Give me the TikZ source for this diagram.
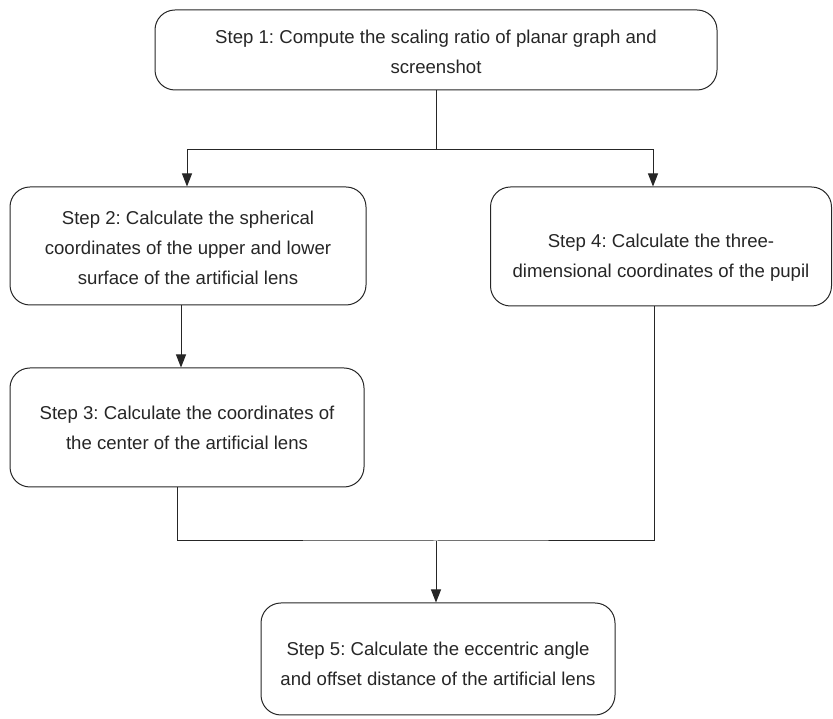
\documentclass[tikz,border=0pt]{standalone}
\usepackage{fontspec}
\setmainfont{Liberation Sans}
\usetikzlibrary{arrows.meta}
\begin{document}
\frenchspacing
\begin{tikzpicture}[x=1pt,y=1pt,
  stepbox/.style={draw=black!85,line width=1pt,rounded corners=20pt,inner sep=0pt},
  steptext/.style={align=center,inner sep=0pt,font=\fontsize{18.6}{30}\selectfont\frenchspacing,text=black!85},
  conn/.style={draw=black!85,line width=1pt},
  arr/.style={conn,-{Triangle[length=13pt,width=10pt]}}]
\useasboundingbox (0,0) rectangle (833,719);
\node[stepbox,minimum width=562pt,minimum height=80pt] (s1) at (436,669) {};
\node[steptext] (t1) at ([yshift=-2pt]s1.center)
  {Step 1: Compute the scaling ratio of planar graph and\\screenshot};
\node[stepbox,minimum width=356pt,minimum height=118pt] (s2) at (188,473) {};
\node[steptext] (t2) at ([yshift=-2pt]s2.center)
  {Step 2: Calculate the spherical\\coordinates of the upper and lower\\surface of the artificial lens};
\node[stepbox,minimum width=341pt,minimum height=119pt] (s4) at (661,472.5) {};
\node[steptext] (t4) at ([yshift=-11pt]s4.center)
  {Step 4: Calculate the three-\\dimensional coordinates of the pupil};
\node[stepbox,minimum width=354pt,minimum height=119pt] (s3) at (187,291.5) {};
\node[steptext] (t3) at (s3.center)
  {Step 3: Calculate the coordinates of\\the center of the artificial lens};
\node[stepbox,minimum width=354pt,minimum height=112pt] (s5) at (438,60) {};
\node[steptext] (t5) at ([yshift=-5pt]s5.center)
  {Step 5: Calculate the eccentric angle\\and offset distance of the artificial lens};
\coordinate (j1) at (436,569);
\coordinate (jl) at (187,569);
\coordinate (jr) at (653,569);
\coordinate (j2) at (436,178);
\draw[conn] (s1.south) -- (j1);
\draw[arr] (j1) -- (jl) -- (jl |- s2.north);
\draw[arr] (j1) -- (jr) -- (jr |- s4.north);
\draw[arr] ([xshift=-7pt]s2.south) -- ([xshift=-6pt]s3.north);
\draw[conn] ([xshift=-10pt]s3.south) |- (j2) -| ([xshift=-7pt]s4.south);
\draw[arr] (j2) -- (s5.north -| j2);
\end{tikzpicture}
\end{document}
